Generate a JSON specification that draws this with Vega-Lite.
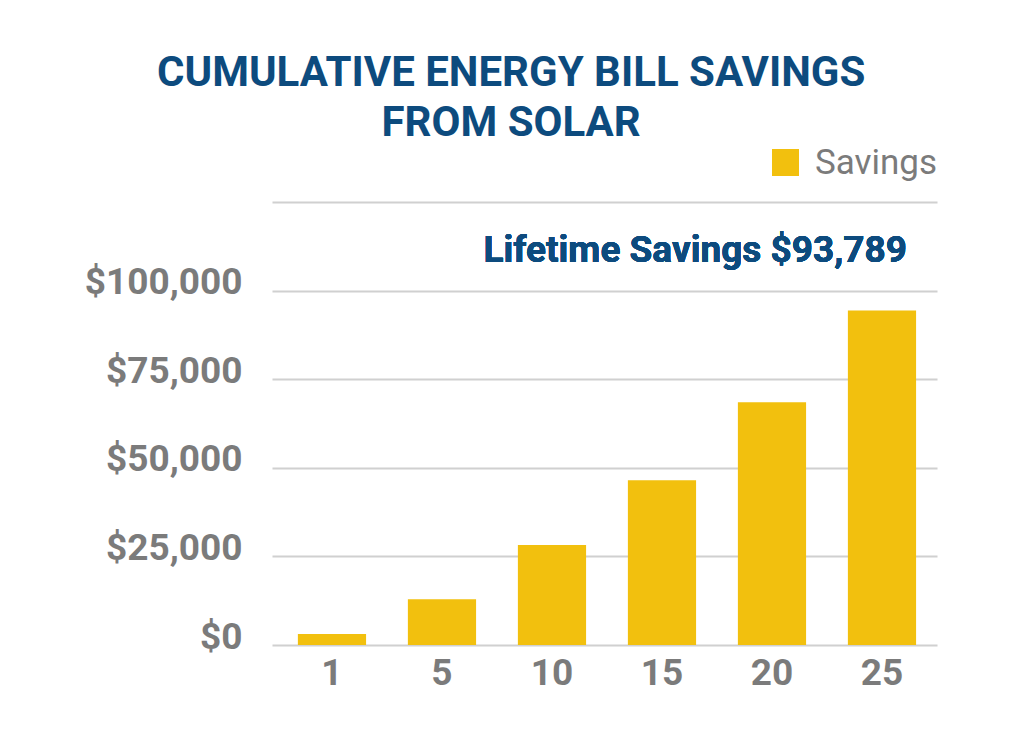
{
  "$schema": "https://vega.github.io/schema/vega-lite/v6.json",
  "autosize": {"type": "none"},
  "width": 665,
  "height": 443,
  "padding": {"left": 272, "top": 202, "right": 87, "bottom": 92},
  "background": "white",
  "title": {
    "text": ["CUMULATIVE ENERGY BILL SAVINGS", "FROM SOLAR"],
    "frame": "bounds",
    "anchor": "middle",
    "font": "Roboto",
    "fontWeight": "bold",
    "fontSize": 42,
    "color": "#0d4b7e",
    "lineHeight": 50,
    "offset": 0
  },
  "data": {
    "values": [
      {"year": "1", "savings": 3100, "series": "Savings"},
      {"year": "5", "savings": 12900, "series": "Savings"},
      {"year": "10", "savings": 28200, "series": "Savings"},
      {"year": "15", "savings": 46500, "series": "Savings"},
      {"year": "20", "savings": 68500, "series": "Savings"},
      {"year": "25", "savings": 94400, "series": "Savings"}
    ]
  },
  "config": {
    "view": {"stroke": null},
    "font": "Roboto"
  },
  "layer": [
    {
      "mark": {"type": "bar"},
      "encoding": {
        "x": {
          "field": "year",
          "type": "ordinal",
          "sort": null,
          "scale": {"paddingInner": 0.38, "paddingOuter": 0.2127, "align": 0.553},
          "axis": {
            "title": null,
            "labelAngle": 0,
            "labelFont": "Roboto",
            "labelFontWeight": "bold",
            "labelFontSize": 37,
            "labelColor": "#7b7b7b",
            "labelPadding": 10,
            "ticks": false,
            "domain": false,
            "grid": false
          }
        },
        "y": {
          "field": "savings",
          "type": "quantitative",
          "scale": {"domain": [0, 125000], "nice": false},
          "axis": {
            "title": null,
            "values": [0, 25000, 50000, 75000, 100000, 125000],
            "labelExpr": "datum.value > 100000 ? '' : '$' + format(datum.value, ',')",
            "labelFont": "Roboto",
            "labelFontWeight": "bold",
            "labelFontSize": 37,
            "labelColor": "#7b7b7b",
            "labelPadding": 30,
            "labelOffset": -8,
            "ticks": false,
            "domain": false,
            "grid": true,
            "gridColor": "#d0d0d0",
            "gridWidth": 2
          }
        },
        "color": {
          "field": "series",
          "type": "nominal",
          "scale": {"range": ["#f2c00e"]},
          "legend": {
            "title": null,
            "orient": "none",
            "legendX": 496,
            "legendY": -57,
            "symbolType": "square",
            "symbolSize": 729,
            "symbolStrokeWidth": 0,
            "labelFont": "Roboto",
            "labelFontSize": 35,
            "labelColor": "#7b7b7b",
            "labelOffset": 12
          }
        }
      }
    },
    {
      "mark": {
        "type": "text",
        "align": "right",
        "baseline": "middle",
        "font": "Roboto",
        "fontWeight": "bold",
        "fontSize": 37,
        "color": "#0d4b7e",
        "dx": 25
      },
      "encoding": {
        "x": {"datum": "25"},
        "y": {"datum": 111300},
        "text": {"datum": "Lifetime Savings $93,789"}
      }
    }
  ]
}
